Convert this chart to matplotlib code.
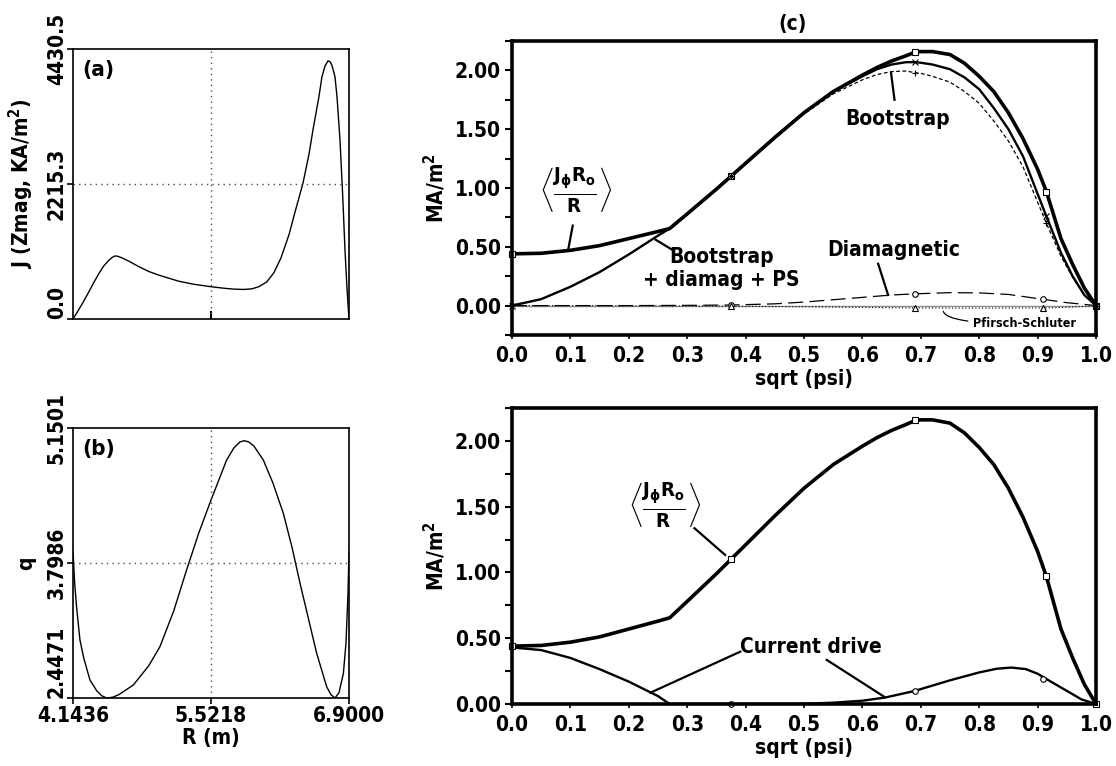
import matplotlib
matplotlib.use("Agg")
import matplotlib.pyplot as plt
from matplotlib import font_manager
from matplotlib.ticker import MultipleLocator, FormatStrFormatter

# pick a condensed bold sans if one is installed
fonts = font_manager.fontManager.ttflist
names = {f.name for f in fonts}
if "Liberation Sans Narrow" in names:
    main_font = "Liberation Sans Narrow"
    stretch = "normal"
elif any(f.name == "DejaVu Sans" and f.stretch == "condensed" for f in fonts):
    main_font = "DejaVu Sans"
    stretch = "condensed"
else:
    main_font = "Liberation Sans"
    stretch = "normal"

plt.rcParams["font.family"] = [main_font, "DejaVu Sans"]
plt.rcParams["font.stretch"] = stretch
plt.rcParams["font.weight"] = "bold"
plt.rcParams["mathtext.fontset"] = "custom"
plt.rcParams["mathtext.rm"] = main_font + ":bold"
plt.rcParams["mathtext.it"] = main_font + ":bold"
plt.rcParams["mathtext.bf"] = main_font + ":bold"

# ---------------- panel (a): J at Zmag vs R ----------------
r_a = [4.1436, 4.20, 4.25, 4.30, 4.35, 4.40, 4.45, 4.50, 4.53, 4.56, 4.59, 4.63,
       4.70, 4.80, 4.90, 5.00, 5.08, 5.20, 5.35, 5.52, 5.65, 5.75, 5.85, 5.93,
       6.00, 6.08, 6.15, 6.22, 6.30, 6.36, 6.44, 6.50, 6.54, 6.60, 6.63, 6.66,
       6.69, 6.71, 6.73, 6.76, 6.78, 6.81, 6.835, 6.86, 6.88, 6.90]
j_a = [0, 150, 290, 440, 595, 740, 870, 960, 1005, 1034, 1030, 1005,
       950, 860, 780, 720, 680, 620, 570, 530, 505, 490, 485, 495,
       530, 610, 760, 1000, 1380, 1750, 2226, 2700, 3101, 3650, 3976, 4150,
       4234, 4225, 4160, 3976, 3650, 2937, 2100, 1132, 500, 0]

# ---------------- panel (b): q vs R ----------------
r_b = [4.1436, 4.16, 4.18, 4.213, 4.25, 4.313, 4.38, 4.43, 4.48, 4.54, 4.60,
       4.746, 4.90, 5.012, 5.15, 5.278, 5.40, 5.522, 5.678, 5.75, 5.81, 5.854,
       5.90, 5.95, 6.044, 6.14, 6.244, 6.33, 6.411, 6.50, 6.577, 6.677, 6.72,
       6.76, 6.80, 6.844, 6.87, 6.89, 6.90]
q_b = [3.912, 3.60, 3.35, 3.028, 2.85, 2.627, 2.52, 2.47, 2.447, 2.455, 2.48,
       2.577, 2.77, 2.961, 3.32, 3.729, 4.10, 4.429, 4.830, 4.95, 5.01, 5.023,
       5.01, 4.97, 4.830, 4.60, 4.296, 3.96, 3.595, 3.22, 2.895, 2.560, 2.48,
       2.447, 2.50, 2.694, 3.00, 3.50, 3.912]

# ---------------- panel (c): current density profiles ----------------
u = [0.0, 0.05, 0.10, 0.15, 0.20, 0.25, 0.27, 0.30, 0.35, 0.375, 0.40, 0.45,
     0.50, 0.55, 0.60, 0.625, 0.65, 0.675, 0.69, 0.70, 0.72, 0.75, 0.775, 0.80,
     0.825, 0.85, 0.875, 0.90, 0.915, 0.94, 0.96, 0.98, 1.0]
total = [0.44, 0.445, 0.47, 0.51, 0.57, 0.63, 0.655, 0.78, 0.99, 1.10, 1.21, 1.43,
         1.64, 1.82, 1.96, 2.025, 2.08, 2.125, 2.155, 2.16, 2.16, 2.135, 2.06, 1.95,
         1.82, 1.64, 1.42, 1.16, 0.97, 0.57, 0.35, 0.15, 0.0]
bs_all = [0.0, 0.055, 0.16, 0.285, 0.435, 0.595, 0.655, 0.78, 0.99, 1.10, 1.21, 1.43,
          1.64, 1.82, 1.95, 2.01, 2.05, 2.07, 2.07, 2.065, 2.05, 2.01, 1.94, 1.84,
          1.68, 1.50, 1.27, 0.95, 0.76, 0.45, 0.25, 0.09, 0.0]
bootstrap = [0.0, 0.055, 0.16, 0.285, 0.435, 0.595, 0.655, 0.78, 0.99, 1.10, 1.21, 1.42,
             1.63, 1.80, 1.92, 1.965, 1.99, 1.995, 1.98, 1.975, 1.95, 1.90, 1.82, 1.72,
             1.57, 1.40, 1.18, 0.88, 0.70, 0.42, 0.24, 0.09, 0.0]
u_dia = [0.0, 0.1, 0.2, 0.3, 0.375, 0.45, 0.5, 0.55, 0.6, 0.65, 0.69, 0.75, 0.8,
         0.85, 0.9, 0.91, 0.95, 1.0]
diamag = [0.0, 0.0, 0.0, 0.002, 0.005, 0.015, 0.03, 0.05, 0.07, 0.09, 0.10, 0.11,
          0.108, 0.095, 0.06, 0.053, 0.025, 0.0]
u_ps = [0.0, 0.2, 0.375, 0.5, 0.6, 0.69, 0.8, 0.91, 0.95, 1.0]
pfirsch = [0.0, -0.002, -0.005, -0.01, -0.015, -0.02, -0.022, -0.02, -0.015, 0.0]

u_cd1 = [0.0, 0.05, 0.10, 0.15, 0.20, 0.25, 0.27]
cd1 = [0.43, 0.41, 0.35, 0.265, 0.17, 0.06, 0.0]
u_cd2 = [0.27, 0.375, 0.45, 0.5, 0.55, 0.6, 0.64, 0.69, 0.75, 0.8, 0.83, 0.855,
         0.88, 0.9, 0.915, 0.95, 0.975, 1.0]
cd2 = [0.0, 0.0, 0.0, 0.002, 0.01, 0.025, 0.05, 0.10, 0.18, 0.24, 0.268, 0.277,
       0.265, 0.23, 0.19, 0.10, 0.035, 0.0]

# marker positions
u_mk = [0.0, 0.375, 0.69, 0.915, 1.0]
total_mk = [0.44, 1.10, 2.16, 0.97, 0.0]
bs_all_mk = [0.0, 1.10, 2.07, 0.76, 0.0]
bootstrap_mk = [0.0, 1.10, 1.98, 0.70, 0.0]
u_mk3 = [0.375, 0.69, 0.91]
diamag_mk = [0.005, 0.10, 0.053]
pfirsch_mk = [-0.005, -0.02, -0.02]
cd_mk = [0.0, 0.10, 0.19]

x_ticks = [0.0, 0.1, 0.2, 0.3, 0.4, 0.5, 0.6, 0.7, 0.8, 0.9, 1.0]
x_ticklabels = ["0.0", "0.1", "0.2", "0.3", "0.4", "0.5", "0.6", "0.7", "0.8", "0.9", "1.0"]

FS = 15

fig = plt.figure(figsize=(11.16, 7.66), dpi=100)


def style_small(ax, ymin, ymax, yt, ylab):
    ax.set_xlim(4.1436, 6.9)
    ax.set_ylim(ymin, ymax)
    ax.set_yticks(yt)
    labs = ax.set_yticklabels(ylab, rotation=90, va="center")
    labs[0].set_va("bottom")
    for sp in ax.spines.values():
        sp.set_linewidth(1.2)
    ax.tick_params(axis="y", direction="out", length=4, width=1.2, pad=0.5, labelsize=FS)
    ax.axvline(5.5218, color="0.3", ls=(0, (1, 3)), lw=1.0)
    ax.axhline(yt[1], color="0.3", ls=(0, (1, 3)), lw=1.0)


# (a)
ax_a = fig.add_axes([73 / 1116, 1 - 319 / 766, 276 / 1116, 270 / 766])
ax_a.plot(r_a, j_a, color="black", lw=1.0)
style_small(ax_a, 0, 4430.5, [0, 2215.3, 4430.5], ["0.0", "2215.3", "4430.5"])
ax_a.set_xticks([5.5218])
ax_a.set_xticklabels([])
ax_a.tick_params(axis="x", direction="in", length=6, width=1.5)
ax_a.set_ylabel("J (Zmag, KA/m$^2$)", fontsize=FS, fontweight="bold")
ax_a.yaxis.set_label_coords(-0.135, 0.5)
ax_a.text(0.035, 0.9, "(a)", transform=ax_a.transAxes, fontsize=FS + 1, fontweight="bold")

# (b)
ax_b = fig.add_axes([73 / 1116, 1 - 698 / 766, 276 / 1116, 270 / 766])
ax_b.plot(r_b, q_b, color="black", lw=1.0)
style_small(ax_b, 2.4471, 5.1501, [2.4471, 3.7986, 5.1501], ["2.4471", "3.7986", "5.1501"])
ax_b.set_xticks([4.1436, 5.5218, 6.9])
ax_b.set_xticklabels(["4.1436", "5.5218", "6.9000"])
ax_b.tick_params(axis="x", direction="out", length=4, width=1.2, pad=2, labelsize=FS)
ax_b.set_xlabel("R (m)", fontsize=FS, fontweight="bold", labelpad=1)
ax_b.set_ylabel("q", fontsize=FS, fontweight="bold")
ax_b.yaxis.set_label_coords(-0.135, 0.5)
ax_b.text(0.035, 0.9, "(b)", transform=ax_b.transAxes, fontsize=FS + 1, fontweight="bold")


def style_big(ax, ymin):
    ax.set_xlim(0, 1.0)
    ax.set_ylim(ymin, 2.25)
    ax.set_xticks(x_ticks)
    ax.set_xticklabels(x_ticklabels)
    ax.yaxis.set_major_locator(MultipleLocator(0.5))
    ax.yaxis.set_minor_locator(MultipleLocator(0.25))
    ax.yaxis.set_major_formatter(FormatStrFormatter("%.2f"))
    for sp in ax.spines.values():
        sp.set_linewidth(2.6)
    ax.tick_params(axis="y", which="both", direction="out", length=5, width=1.5, pad=3, labelsize=FS)
    ax.tick_params(axis="x", direction="out", length=3, width=1.2, pad=5, labelsize=FS)
    ax.set_xlabel("sqrt (psi)", fontsize=FS, fontweight="bold", labelpad=2)
    ax.set_ylabel("MA/m$^2$", fontsize=FS, fontweight="bold")
    ax.yaxis.set_label_coords(-0.11, 0.5)


jr_label = r"$\left\langle\frac{J_{\phi}R_{o}}{R}\right\rangle$"
line_kw = dict(color="black", lw=1.6)

# (c) top
ax_c = fig.add_axes([512 / 1116, 1 - 335 / 766, 584 / 1116, 294 / 766])
ax_c.axhline(0, color="0.55", lw=1.0, zorder=1)
ax_c.plot(u_ps, pfirsch, color="black", lw=0.8, ls=(0, (1, 2)))
ax_c.plot(u_dia, diamag, color="black", lw=0.9, ls=(0, (12, 5)))
ax_c.plot(u, bootstrap, color="black", lw=0.9, ls=(0, (3, 2)))
ax_c.plot(u, bs_all, color="black", lw=1.7)
ax_c.plot(u, total, color="black", lw=2.6)
ax_c.plot(u_mk, total_mk, ls="none", marker="s", ms=4, mfc="white", mec="black", mew=0.8,
          clip_on=False)
ax_c.plot(u_mk, bs_all_mk, ls="none", marker="x", ms=5, mec="black", mew=0.8, clip_on=False)
ax_c.plot(u_mk, bootstrap_mk, ls="none", marker="+", ms=5, mec="black", mew=0.8, clip_on=False)
ax_c.plot(u_mk3, diamag_mk, ls="none", marker="o", ms=4, mfc="white", mec="black", mew=0.8)
ax_c.plot(u_mk3, pfirsch_mk, ls="none", marker="^", ms=4, mfc="white", mec="black", mew=0.8)
style_big(ax_c, -0.25)
ax_c.set_title("(c)", fontsize=FS, fontweight="bold", pad=8, x=0.48)

ax_c.text(0.109, 0.99, jr_label, fontsize=21, ha="center", va="center")
ax_c.plot([0.104, 0.096], [0.68, 0.47], **line_kw)
ax_c.text(0.66, 1.585, "Bootstrap", fontsize=FS, ha="center", va="center")
ax_c.plot([0.655, 0.649], [1.75, 1.98], **line_kw)
ax_c.text(0.359, 0.314, "Bootstrap\n+ diamag + PS", fontsize=FS, ha="center", va="center",
          linespacing=1.15)
ax_c.plot([0.276, 0.246], [0.47, 0.56], **line_kw)
ax_c.text(0.653, 0.469, "Diamagnetic", fontsize=FS, ha="center", va="center")
ax_c.plot([0.627, 0.644], [0.356, 0.09], **line_kw)
ax_c.annotate("Pfirsch-Schluter", xy=(0.739, -0.025), xytext=(0.79, -0.155),
              fontsize=9, fontweight="bold", va="center", ha="left",
              arrowprops=dict(arrowstyle="-", lw=0.9, color="black",
                              connectionstyle="angle3,angleA=0,angleB=70"))

# (c) bottom
ax_d = fig.add_axes([512 / 1116, 1 - 704 / 766, 584 / 1116, 296 / 766])
ax_d.plot(u_cd1, cd1, color="black", lw=1.7)
ax_d.plot(u_cd2, cd2, color="black", lw=1.7)
ax_d.plot(u, total, color="black", lw=2.6)
ax_d.plot(u_mk, total_mk, ls="none", marker="s", ms=4, mfc="white", mec="black", mew=0.8,
          clip_on=False)
ax_d.plot(u_mk3, cd_mk, ls="none", marker="o", ms=4, mfc="white", mec="black", mew=0.8,
          clip_on=False)
style_big(ax_d, 0.0)

ax_d.text(0.262, 1.513, jr_label, fontsize=21, ha="center", va="center")
ax_d.plot([0.3125, 0.365], [1.336, 1.133], **line_kw)
ax_d.text(0.512, 0.436, "Current drive", fontsize=FS, ha="center", va="center")
ax_d.plot([0.391, 0.237], [0.398, 0.086], **line_kw)
ax_d.plot([0.539, 0.637], [0.335, 0.056], **line_kw)

fig.savefig("out.png", dpi=100)
